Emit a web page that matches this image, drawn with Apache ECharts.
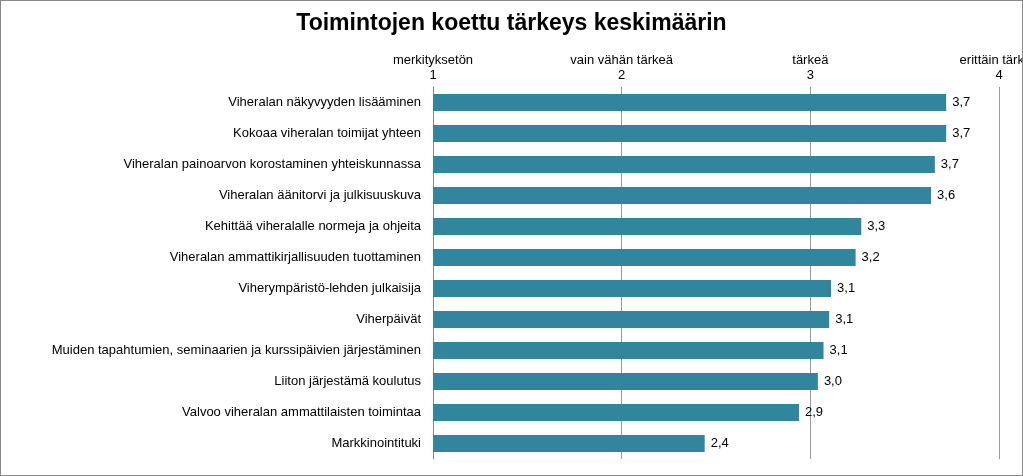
<!DOCTYPE html>
<html>
<head>
<meta charset="utf-8">
<script src="https://cdn.jsdelivr.net/npm/echarts@6/dist/echarts.min.js"></script>
<style>
html,body{margin:0;padding:0;background:#fff;}
#chart{width:1021px;height:474px;border:1px solid #888;}
</style>
</head>
<body>
<div id="chart"></div>
<script>
var categories = [
  'Viheralan näkyvyyden lisääminen',
  'Kokoaa viheralan toimijat yhteen',
  'Viheralan painoarvon korostaminen yhteiskunnassa',
  'Viheralan äänitorvi ja julkisuuskuva',
  'Kehittää viheralalle normeja ja ohjeita',
  'Viheralan ammattikirjallisuuden tuottaminen',
  'Viherympäristö-lehden julkaisija',
  'Viherpäivät',
  'Muiden tapahtumien, seminaarien ja kurssipäivien järjestäminen',
  'Liiton järjestämä koulutus',
  'Valvoo viheralan ammattilaisten toimintaa',
  'Markkinointituki'
];
var values = [3.72, 3.72, 3.66, 3.64, 3.27, 3.24, 3.11, 3.10, 3.07, 3.04, 2.94, 2.44];
var tickNames = {1: 'merkityksetön', 2: 'vain vähän tärkeä', 3: 'tärkeä', 4: 'erittäin tärkeä'};

var myChart = echarts.init(document.getElementById('chart'));
var option = {
  animation: false,
  textStyle: {fontFamily: 'Liberation Sans, Arial, sans-serif'},
  title: {
    text: 'Toimintojen koettu tärkeys keskimäärin',
    left: 'center', top: 6,
    textStyle: {fontSize: 23, fontWeight: 'bold', color: '#000'}
  },
  grid: {left: 432, right: 23, top: 86, bottom: 16, outerBoundsMode: 'none', containLabel: false},
  xAxis: {
    type: 'value', position: 'top', min: 1, max: 4, interval: 1,
    axisLine: {show: false},
    axisTick: {show: false},
    axisLabel: {
      color: '#000', fontSize: 13, lineHeight: 15, margin: 4,
      formatter: function (v) { return tickNames[v] + '\n' + v; }
    },
    splitLine: {lineStyle: {color: '#999'}}
  },
  yAxis: {
    type: 'category', inverse: true, data: categories,
    axisLine: {lineStyle: {color: '#888'}},
    axisTick: {show: false},
    axisLabel: {color: '#000', fontSize: 13, margin: 12}
  },
  series: [{
    type: 'bar', data: values, barWidth: 17,
    itemStyle: {color: '#31859C'},
    label: {
      show: true, position: 'right', color: '#000', fontSize: 13, distance: 6,
      formatter: function (p) { return p.value.toFixed(1).replace('.', ','); }
    }
  }]
};
myChart.setOption(option);
</script>
</body>
</html>
